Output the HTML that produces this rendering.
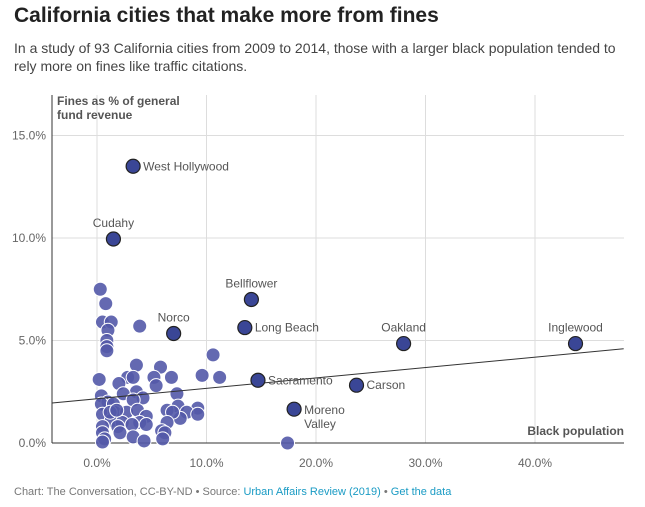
<!DOCTYPE html>
<html><head><meta charset="utf-8"><style>
body{margin:0;background:#fff;font-family:"Liberation Sans",sans-serif;width:645px;height:507px;overflow:hidden;position:relative}
#title{position:absolute;left:14px;top:4px;font-size:21px;font-weight:bold;color:#222;margin:0}
#sub{position:absolute;left:14px;top:39px;width:620px;font-size:14px;line-height:18px;color:#444;margin:0}
#foot{position:absolute;left:14px;top:486px;font-size:11px;color:#777}
#foot a{color:#1a9bc4;text-decoration:none}
svg{position:absolute;left:0;top:0}
</style></head><body>
<h1 id="title">California cities that make more from fines</h1>
<p id="sub">In a study of 93 California cities from 2009 to 2014, those with a larger black population tended to rely more on fines like traffic citations.</p>
<svg id="chart" width="645" height="507"></svg>
<div id="foot">Chart: The Conversation, CC-BY-ND • Source: <a>Urban Affairs Review (2019)</a> • <a>Get the data</a></div>
<script>
const xTicks=[0,10,20,30,40];
const yTicks=[0,5,10,15];
const trendX=[-4.1,48.1];
const trendY=[1.95,4.6];
const xs=[0.3,0.8,0.5,1.3,1.0,3.9,0.9,0.9,0.9,10.6,3.6,5.8,0.2,2.8,3.3,5.2,6.8,9.6,11.2,2.0,3.6,5.4,0.4,1.0,2.4,4.2,7.3,0.4,1.5,3.3,9.2,7.4,0.5,1.6,2.7,3.7,4.5,6.4,8.2,9.2,7.6,6.9,1.3,2.3,3.9,4.5,6.4,0.5,1.9,3.2,0.5,2.1,3.3,5.9,6.2,0.7,0.5,4.3,6.0,1.2,1.8,17.4];
const ys=[7.5,6.8,5.9,5.9,5.5,5.7,5.0,4.7,4.5,4.3,3.8,3.7,3.1,3.2,3.2,3.2,3.2,3.3,3.2,2.9,2.5,2.8,2.3,2.0,2.4,2.2,2.4,1.9,1.9,2.1,1.7,1.8,1.4,1.5,1.5,1.6,1.3,1.6,1.5,1.4,1.2,1.5,1.1,1.0,1.0,0.9,1.0,0.8,0.8,0.9,0.5,0.5,0.3,0.6,0.5,0.2,0.05,0.1,0.2,1.5,1.6,0.0];
const cityNames=["West Hollywood","Cudahy","Bellflower","Norco","Long Beach","Oakland","Inglewood","Sacramento","Carson","Moreno Valley"];
const cityX=[3.3,1.5,14.1,7.0,13.5,28.0,43.7,14.7,23.7,18.0];
const cityY=[13.5,9.95,7.0,5.34,5.63,4.85,4.85,3.06,2.82,1.65];
const sx=v=>97+v*10.95, sy=v=>443-v*20.5;
const svg=document.getElementById('chart');const NS='http://www.w3.org/2000/svg';
function mk(t,a,p){const e=document.createElementNS(NS,t);for(const k in a)e.setAttribute(k,a[k]);(p||svg).appendChild(e);return e;}
xTicks.forEach(v=>{const l=mk('line',{x1:sx(v),x2:sx(v),y1:95,y2:443,stroke:'#ddd'});


const t=mk('text',{x:sx(v),y:467,'text-anchor':'middle','font-size':12,fill:'#666'});t.textContent=v.toFixed(1)+'%';

});
yTicks.forEach(v=>{const l=mk('line',{x1:52,x2:624,y1:sy(v),y2:sy(v),stroke:v===0?'#333':'#ddd'});


const t=mk('text',{x:46,y:sy(v)+4,'text-anchor':'end','font-size':12,fill:'#666'});t.textContent=v.toFixed(1)+'%';

});
const ya=mk('line',{x1:52,x2:52,y1:95,y2:443,stroke:'#333'});


const yt=mk('text',{x:57,y:105,'font-size':12,'font-weight':'bold',fill:'#555'});


yt.innerHTML='<tspan x="57">Fines as % of general</tspan><tspan x="57" dy="14">fund revenue</tspan>';
const xt=mk('text',{x:624,y:435,'text-anchor':'end','font-size':12,'font-weight':'bold',fill:'#555'});xt.textContent='Black population';


xs.forEach((x,i)=>{const c=mk('circle',{cx:sx(x),cy:sy(ys[i]),r:7,fill:'#5359a8','fill-opacity':0.9,stroke:'#fff','stroke-width':1});

});
const tl=mk('line',{x1:sx(trendX[0]),y1:sy(trendY[0]),x2:sx(trendX[1]),y2:sy(trendY[1]),stroke:'#333','stroke-width':1});


const lp=[['r',0],['a',-1],['a',-1],['a',-1],['r',0],['a',-1],['a',-1],['r',0],['r',0],['r',1]];
cityNames.forEach((n,i)=>{const x=sx(cityX[i]),y=sy(cityY[i]);
const c=mk('circle',{cx:x,cy:y,r:7,fill:'#3a4696',stroke:'#222','stroke-width':1.2});


const p=lp[i];let t;
if(p[0]==='r'){t=mk('text',{x:x+10,y:y+4,'font-size':12,fill:'#555'});
if(p[1]===1){t.innerHTML='<tspan x="'+(x+10)+'" y="'+(y+5)+'">Moreno</tspan><tspan x="'+(x+10)+'" dy="14">Valley</tspan>';}else t.textContent=n;}
else{t=mk('text',{x:x,y:y-12,'text-anchor':'middle','font-size':12,fill:'#555'});t.textContent=n;}

});
</script>
</body></html>
